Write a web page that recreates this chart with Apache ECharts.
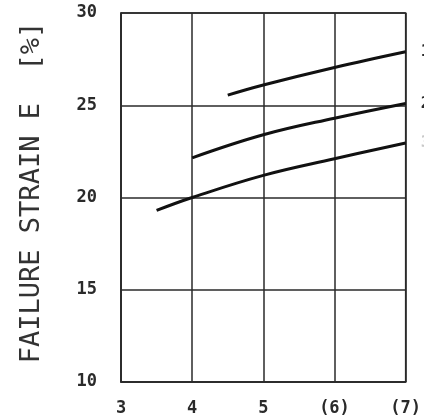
<!DOCTYPE html>
<html>
<head>
<meta charset="utf-8">
<style>
  html, body { margin: 0; padding: 0; background: #fff; }
  #chart { width: 424px; height: 420px; }
</style>
<script src="https://cdn.jsdelivr.net/npm/echarts@6/dist/echarts.min.js"></script>
</head>
<body>
<div id="chart"></div>
<script>
// Tick labels along each axis
const xTicks = [3, 4, 5, 6, 7];
const xTickLabels = ['3', '4', '5', '(6)', '(7)'];
const yTicks = [10, 15, 20, 25, 30];

// Failure strain curves, [x, strain %]
const curve1 = [[4.5, 25.55], [5, 26.1], [6, 27.05], [7, 27.9]];
const curve2 = [[4, 22.15], [5, 23.4], [6, 24.3], [7, 25.1]];
const curve3 = [[3.5, 19.3], [4, 20.0], [5, 21.2], [6, 22.1], [7, 22.95]];
const curveNames = ['1', '2', '3'];

const ink = '#2a2a2a';
const mono = '"DejaVu Sans Mono", "Liberation Mono", monospace';

const chart = echarts.init(document.getElementById('chart'), null, { renderer: 'canvas' });

function lineSeries(name, data, labelColor) {
  return {
    name: name,
    type: 'line',
    data: data,
    smooth: 0.4,
    symbol: 'none',
    lineStyle: { color: '#111', width: 3 },
    endLabel: {
      show: true,
      formatter: name,
      distance: 15,
      color: labelColor,
      fontFamily: mono,
      fontWeight: 'bold',
      fontSize: 16
    },
    z: 5
  };
}

chart.setOption({
  animation: false,
  backgroundColor: '#fff',
  grid: {
    left: 121, right: 17, top: 13, bottom: 38,
    show: true, borderColor: ink, borderWidth: 1.5
  },
  xAxis: {
    type: 'value',
    min: xTicks[0], max: xTicks[xTicks.length - 1], interval: 1,
    axisLine: { show: true, lineStyle: { color: ink, width: 1.5 } },
    axisTick: { show: false },
    splitLine: { show: true, lineStyle: { color: ink, width: 1.5 } },
    axisLabel: {
      margin: 18,
      color: ink,
      fontFamily: mono,
      fontWeight: 'bold',
      fontSize: 17,
      showMaxLabel: true,
      formatter: function (v) {
        const i = xTicks.indexOf(v);
        return i >= 0 ? xTickLabels[i] : '';
      }
    }
  },
  yAxis: {
    type: 'value',
    min: yTicks[0], max: yTicks[yTicks.length - 1], interval: 5,
    name: 'FAILURE STRAIN E  [%]',
    nameLocation: 'middle',
    nameGap: 76,
    nameRotate: 90,
    nameTextStyle: {
      color: '#333',
      fontFamily: mono,
      fontSize: 27,
      padding: [0, 0, 0, 10]
    },
    axisLine: { show: true, lineStyle: { color: ink, width: 1.5 } },
    axisTick: { show: false },
    splitLine: { show: true, lineStyle: { color: ink, width: 1.5 } },
    axisLabel: {
      margin: 24,
      color: ink,
      fontFamily: mono,
      fontWeight: 'bold',
      fontSize: 17,
      padding: [10, 0, 0, 0]
    }
  },
  series: [
    lineSeries(curveNames[0], curve1, ink),
    lineSeries(curveNames[1], curve2, ink),
    lineSeries(curveNames[2], curve3, '#c8c8c8')
  ]
});
</script>
</body>
</html>
